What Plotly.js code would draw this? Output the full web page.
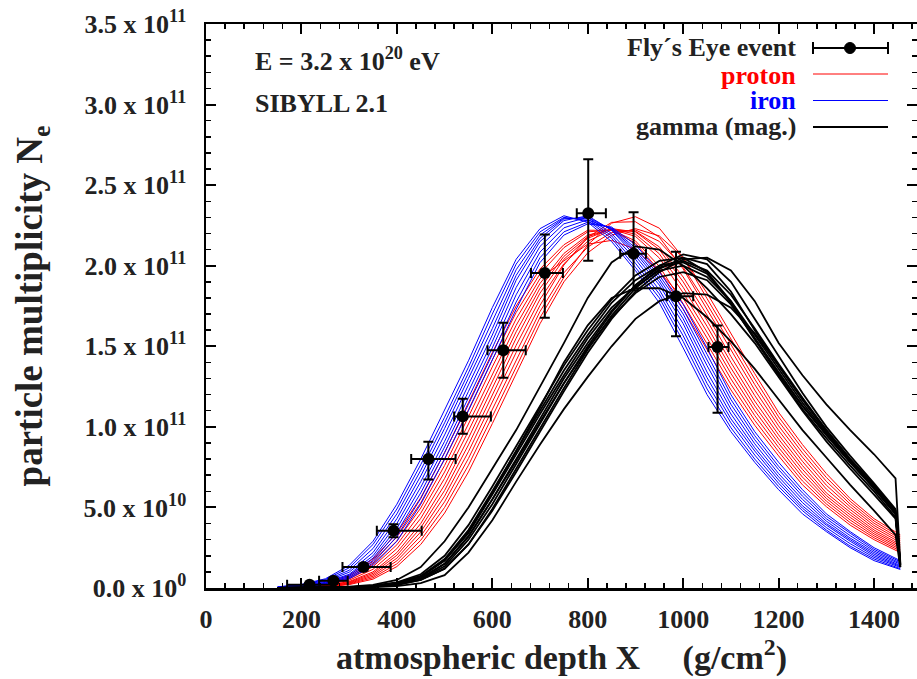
<!DOCTYPE html>
<html>
<head>
<meta charset="utf-8">
<script src="https://cdn.plot.ly/plotly-3.0.1.min.js"></script>
<style>html,body{margin:0;padding:0;background:#fff;}#chart{width:917px;height:679px;}</style>
</head>
<body>
<div id="chart"></div>
<script>
// atmospheric depth grid (g/cm^2) for simulated showers
var depthGrid = [150,200,250,300,350,400,450,500,550,600,650,700,750,800,850,900,950,1000,1050,1100,1150,1200,1250,1300,1350,1400,1455];
var gammaGrid = [150,200,250,300,350,400,450,500,550,600,650,700,750,800,850,900,950,1000,1050,1100,1150,1200,1250,1300,1350,1400,1445,1455];

// iron showers, Ne in units of 1e11
var iron1 = [0.007,0.022,0.057,0.14,0.29,0.52,0.80,1.10,1.41,1.74,2.04,2.23,2.31,2.27,2.15,1.97,1.77,1.49,1.20,0.97,0.78,0.61,0.46,0.35,0.25,0.17,0.115];
var iron2 = [0.006,0.02,0.052,0.125,0.27,0.49,0.765,1.06,1.37,1.70,2.01,2.21,2.30,2.28,2.17,1.99,1.80,1.53,1.235,0.995,0.80,0.63,0.48,0.36,0.26,0.18,0.12];
var iron3 = [0.005,0.017,0.046,0.11,0.245,0.46,0.73,1.025,1.335,1.655,1.975,2.19,2.295,2.29,2.185,2.015,1.825,1.565,1.27,1.025,0.825,0.65,0.495,0.375,0.275,0.19,0.128];
var iron4 = [0.004,0.015,0.04,0.098,0.22,0.43,0.695,0.99,1.30,1.61,1.94,2.17,2.29,2.30,2.20,2.04,1.85,1.60,1.305,1.05,0.85,0.67,0.51,0.39,0.29,0.20,0.134];
var iron5 = [0.003,0.012,0.035,0.085,0.20,0.40,0.66,0.95,1.26,1.57,1.91,2.15,2.28,2.31,2.22,2.06,1.88,1.64,1.34,1.08,0.87,0.69,0.53,0.40,0.30,0.21,0.14];
var iron6 = [0.0025,0.011,0.032,0.078,0.185,0.37,0.625,0.91,1.22,1.53,1.865,2.12,2.26,2.30,2.225,2.08,1.90,1.67,1.38,1.11,0.895,0.71,0.55,0.415,0.31,0.22,0.148];
var iron7 = [0.002,0.0095,0.028,0.071,0.17,0.345,0.59,0.875,1.18,1.49,1.82,2.085,2.235,2.285,2.23,2.095,1.92,1.70,1.415,1.14,0.92,0.735,0.57,0.43,0.325,0.23,0.155];
var iron8 = [0.0015,0.008,0.025,0.064,0.155,0.32,0.555,0.84,1.14,1.45,1.775,2.05,2.21,2.27,2.235,2.11,1.94,1.73,1.45,1.17,0.945,0.755,0.59,0.445,0.34,0.24,0.163];
var iron9 = [0.001,0.007,0.022,0.057,0.14,0.29,0.52,0.80,1.10,1.41,1.73,2.02,2.19,2.26,2.24,2.13,1.96,1.76,1.49,1.20,0.97,0.78,0.61,0.46,0.35,0.25,0.17];

// proton showers
var proton1 = [0.003,0.011,0.03,0.079,0.18,0.34,0.56,0.84,1.15,1.46,1.75,1.98,2.13,2.22,2.22,2.14,1.97,1.73,1.48,1.23,1.01,0.82,0.64,0.505,0.39,0.30,0.22];
var proton2 = [0.0026,0.0096,0.027,0.071,0.164,0.316,0.528,0.80,1.106,1.416,1.71,1.95,2.112,2.21,2.222,2.154,1.996,1.764,1.516,1.264,1.04,0.846,0.664,0.522,0.406,0.312,0.23];
var proton3 = [0.0022,0.0082,0.024,0.063,0.148,0.292,0.496,0.76,1.062,1.372,1.67,1.92,2.03,2.134,2.157,2.103,1.961,1.798,1.552,1.298,1.07,0.872,0.688,0.539,0.422,0.324,0.24];
var proton4 = [0.0018,0.0068,0.021,0.056,0.132,0.268,0.464,0.72,1.018,1.328,1.63,1.89,2.076,2.19,2.226,2.182,2.048,1.832,1.588,1.332,1.10,0.898,0.712,0.556,0.438,0.336,0.25];
var proton5 = [0.0014,0.0054,0.018,0.048,0.116,0.244,0.432,0.68,0.974,1.284,1.59,1.86,2.058,2.18,2.228,2.196,2.074,1.866,1.624,1.366,1.13,0.924,0.736,0.573,0.454,0.348,0.26];
var proton6 = [0.001,0.004,0.015,0.04,0.10,0.22,0.40,0.64,0.93,1.24,1.55,1.83,2.04,2.17,2.23,2.21,2.10,1.90,1.66,1.40,1.16,0.95,0.76,0.59,0.47,0.36,0.27];
var proton7 = [0.0008,0.0035,0.013,0.036,0.091,0.203,0.374,0.605,0.888,1.196,1.506,1.792,2.012,2.152,2.222,2.214,2.117,1.93,1.694,1.436,1.194,0.978,0.786,0.614,0.487,0.374,0.282];
var proton8 = [0.0006,0.003,0.011,0.032,0.082,0.185,0.348,0.57,0.846,1.152,1.462,1.754,2.004,2.177,2.269,2.273,2.177,1.98,1.728,1.472,1.228,1.006,0.812,0.638,0.504,0.388,0.294];
var proton9 = [0.0004,0.0025,0.0096,0.0286,0.073,0.168,0.322,0.535,0.804,1.108,1.418,1.716,1.956,2.116,2.206,2.222,2.151,1.99,1.762,1.508,1.262,1.034,0.838,0.662,0.521,0.402,0.306];
var proton10 = [0.0002,0.002,0.0078,0.0248,0.064,0.15,0.296,0.50,0.762,1.064,1.374,1.678,1.928,2.13,2.264,2.304,2.233,2.05,1.796,1.544,1.296,1.062,0.864,0.686,0.538,0.416,0.318];
var proton11 = [0.0,0.0015,0.006,0.021,0.055,0.133,0.27,0.465,0.72,1.02,1.33,1.64,1.90,2.08,2.19,2.23,2.185,2.05,1.83,1.58,1.33,1.09,0.89,0.71,0.555,0.43,0.33];

// gamma showers (with geomagnetic effect)
var gamma1 = [0,0.001,0.002,0.004,0.01,0.025,0.06,0.15,0.32,0.55,0.80,1.05,1.30,1.52,1.72,1.88,1.99,2.02,1.95,1.77,1.54,1.33,1.13,0.95,0.78,0.62,0.46,0.14];
var gamma2 = [0,0.001,0.003,0.006,0.015,0.035,0.085,0.20,0.39,0.63,0.88,1.13,1.38,1.60,1.79,1.94,2.03,2.05,1.96,1.78,1.55,1.34,1.13,0.95,0.78,0.62,0.46,0.15];
var gamma3 = [0,0.001,0.002,0.005,0.012,0.03,0.07,0.17,0.34,0.58,0.83,1.08,1.32,1.55,1.74,1.87,1.97,2.00,1.93,1.78,1.57,1.36,1.15,0.96,0.79,0.63,0.47,0.14];
var gamma4 = [0,0,0.001,0.003,0.008,0.02,0.05,0.12,0.27,0.49,0.74,0.99,1.24,1.48,1.69,1.86,1.98,2.05,2.01,1.84,1.60,1.38,1.17,0.98,0.80,0.64,0.48,0.13];
var gamma5 = [0,0.001,0.002,0.004,0.009,0.022,0.055,0.135,0.30,0.52,0.77,1.02,1.27,1.50,1.71,1.88,2.00,2.07,2.04,1.90,1.67,1.44,1.21,1.00,0.82,0.65,0.49,0.15];
var gamma6 = [0,0.001,0.002,0.004,0.01,0.025,0.06,0.15,0.32,0.55,0.79,1.03,1.27,1.49,1.68,1.83,1.93,1.96,1.91,1.76,1.55,1.32,1.11,0.93,0.76,0.60,0.44,0.13];
var gamma7 = [0,0.001,0.002,0.005,0.013,0.032,0.075,0.18,0.36,0.60,0.85,1.10,1.35,1.57,1.77,1.91,2.00,2.03,1.97,1.82,1.61,1.39,1.18,0.98,0.80,0.64,0.48,0.15];
var gamma8 = [0,0,0.001,0.003,0.008,0.02,0.05,0.12,0.27,0.48,0.72,0.97,1.22,1.46,1.67,1.84,1.96,2.04,2.05,1.97,1.78,1.52,1.32,1.14,0.98,0.83,0.68,0.16];
var gamma9 = [0,0.001,0.003,0.008,0.02,0.05,0.13,0.29,0.50,0.74,0.98,1.25,1.52,1.80,2.02,2.12,2.10,2.00,1.86,1.70,1.52,1.31,1.10,0.91,0.74,0.58,0.43,0.14];
var gamma10 = [0,0.001,0.002,0.005,0.012,0.03,0.07,0.17,0.35,0.59,0.85,1.12,1.40,1.63,1.80,1.86,1.86,1.80,1.68,1.53,1.36,1.17,0.98,0.81,0.64,0.48,0.33,0.13];
var gamma11 = [0,0,0.001,0.002,0.005,0.012,0.03,0.08,0.22,0.42,0.66,0.89,1.11,1.31,1.50,1.67,1.78,1.83,1.82,1.74,1.58,1.38,1.17,0.97,0.79,0.62,0.46,0.14];

// Fly's Eye event
var flyX = [217, 267, 330, 393, 466, 538, 623, 710, 801, 896, 985, 1072];
var flyN = [0.02, 0.045, 0.13, 0.355, 0.80, 1.065, 1.475, 1.955, 2.325, 2.075, 1.81, 1.495];
var flyNErrPlus = [0.01, 0.015, 0.02, 0.04, 0.108, 0.109, 0.171, 0.239, 0.335, 0.257, 0.277, 0.134];
var flyNErrMinus = [0.01, 0.015, 0.02, 0.04, 0.127, 0.107, 0.171, 0.278, 0.294, 0.227, 0.247, 0.408];
var flyXErrPlus = [50, 30, 57, 59, 57, 59, 47, 38, 37, 26, 36, 23];
var flyXErrMinus = [47, 30, 44, 35, 36, 18, 33, 29, 24, 28, 19, 19];

// axis ticks
var yTickVals = [0, 0.5, 1.0, 1.5, 2.0, 2.5, 3.0, 3.5];
var yTickText = ['0.0 x 10<sup>0</sup>','5.0 x 10<sup>10</sup>','1.0 x 10<sup>11</sup>','1.5 x 10<sup>11</sup>','2.0 x 10<sup>11</sup>','2.5 x 10<sup>11</sup>','3.0 x 10<sup>11</sup>','3.5 x 10<sup>11</sup>'];
var xTickVals = [0, 200, 400, 600, 800, 1000, 1200, 1400];

var ironSets = [iron1, iron2, iron3, iron4, iron5, iron6, iron7, iron8, iron9];
var protonSets = [proton1, proton2, proton3, proton4, proton5, proton6, proton7, proton8, proton9, proton10, proton11];
var gammaSets = [gamma1, gamma2, gamma3, gamma4, gamma5, gamma6, gamma7, gamma8, gamma9, gamma10, gamma11];

var traces = [];
protonSets.forEach(function (s) {
  traces.push({x: depthGrid, y: s, mode: 'lines', line: {color: '#ff0000', width: 1}, showlegend: false, hoverinfo: 'skip'});
});
ironSets.forEach(function (s) {
  traces.push({x: depthGrid, y: s, mode: 'lines', line: {color: '#0000ff', width: 1}, showlegend: false, hoverinfo: 'skip'});
});
gammaSets.forEach(function (s) {
  traces.push({x: gammaGrid, y: s, mode: 'lines', line: {color: '#000000', width: 1.8}, showlegend: false, hoverinfo: 'skip'});
});
traces.push({
  x: flyX, y: flyN, mode: 'markers', showlegend: false,
  marker: {color: '#000', size: 12, symbol: 'circle'},
  error_y: {type: 'data', symmetric: false, array: flyNErrPlus, arrayminus: flyNErrMinus, color: '#000', thickness: 2, width: 5},
  error_x: {type: 'data', symmetric: false, array: flyXErrPlus, arrayminus: flyXErrMinus, color: '#000', thickness: 2, width: 5}
});

var L = 206, R = 917, T = 24, B = 588;
function px(x) { return (x - L) / (R - L); }
function py(y) { return (B - y) / (B - T); }

var textFont = {family: 'Liberation Serif, Times New Roman, serif', size: 26, color: '#222', weight: 'bold'};
var annotations = [
  {xref: 'paper', yref: 'paper', x: px(253), y: py(60), xanchor: 'left', yanchor: 'middle', showarrow: false, text: 'E = 3.2 x 10<sup>20</sup> eV', font: textFont},
  {xref: 'paper', yref: 'paper', x: px(253), y: py(104), xanchor: 'left', yanchor: 'middle', showarrow: false, text: 'SIBYLL 2.1', font: textFont},
  {xref: 'paper', yref: 'paper', x: px(798), y: py(48), xanchor: 'right', yanchor: 'middle', showarrow: false, text: 'Fly\u00b4s Eye event', font: textFont},
  {xref: 'paper', yref: 'paper', x: px(798), y: py(75), xanchor: 'right', yanchor: 'middle', showarrow: false, text: 'proton', font: Object.assign({}, textFont, {color: '#ff0000'})},
  {xref: 'paper', yref: 'paper', x: px(798), y: py(101), xanchor: 'right', yanchor: 'middle', showarrow: false, text: 'iron', font: Object.assign({}, textFont, {color: '#0000ff'})},
  {xref: 'paper', yref: 'paper', x: px(798), y: py(127), xanchor: 'right', yanchor: 'middle', showarrow: false, text: 'gamma (mag.)', font: textFont}
];
var shapes = [
  {type: 'line', xref: 'paper', yref: 'paper', x0: px(813), x1: px(888), y0: py(48), y1: py(48), line: {color: '#000', width: 2}},
  {type: 'line', xref: 'paper', yref: 'paper', x0: px(813), x1: px(813), y0: py(42), y1: py(54), line: {color: '#000', width: 2}},
  {type: 'line', xref: 'paper', yref: 'paper', x0: px(888), x1: px(888), y0: py(42), y1: py(54), line: {color: '#000', width: 2}},
  {type: 'circle', xref: 'paper', yref: 'paper', x0: px(844.5), x1: px(855.5), y0: py(42.5), y1: py(53.5), fillcolor: '#000', line: {color: '#000', width: 1}},
  {type: 'line', xref: 'paper', yref: 'paper', x0: px(813), x1: px(888), y0: py(74), y1: py(74), line: {color: '#ff0000', width: 1}},
  {type: 'line', xref: 'paper', yref: 'paper', x0: px(813), x1: px(888), y0: py(100.5), y1: py(100.5), line: {color: '#0000ff', width: 1}},
  {type: 'line', xref: 'paper', yref: 'paper', x0: px(813), x1: px(888), y0: py(127), y1: py(127), line: {color: '#000', width: 2}}
];

var layout = {
  width: 917, height: 679,
  margin: {l: L, r: 917 - R, t: T, b: 679 - B, pad: 0},
  paper_bgcolor: '#fff', plot_bgcolor: '#fff',
  font: {family: 'Liberation Serif, Times New Roman, serif', size: 26, color: '#222', weight: 'bold'},
  showlegend: false,
  xaxis: {
    range: [0, 1490], tickvals: xTickVals, showgrid: false, zeroline: false,
    showline: true, linecolor: '#000', linewidth: 2.5, mirror: 'allticks',
    ticks: 'inside', ticklen: 10, tickwidth: 2, tickcolor: '#000',
    minor: {dtick: 40, tick0: 0, ticks: 'inside', ticklen: 5, tickwidth: 1.5, tickcolor: '#000', showgrid: false},
    tickfont: {size: 26, weight: 'bold', color: '#222'},
    ticklabelstandoff: 6,
    title: {text: 'atmospheric depth X&nbsp;&nbsp;&nbsp;&nbsp;&nbsp;(g/cm<sup>2</sup>)', font: {size: 34, weight: 'bold', color: '#222'}, standoff: 8},
    automargin: false
  },
  yaxis: {
    range: [0, 3.5], tickvals: yTickVals, ticktext: yTickText, showgrid: false, zeroline: false,
    showline: true, linecolor: '#000', linewidth: 2.5, mirror: 'allticks',
    ticks: 'inside', ticklen: 10, tickwidth: 2, tickcolor: '#000',
    minor: {dtick: 0.1, tick0: 0, ticks: 'inside', ticklen: 5, tickwidth: 1.5, tickcolor: '#000', showgrid: false},
    tickfont: {size: 26, weight: 'bold', color: '#222'},
    ticklabelstandoff: 12,
    title: {text: 'particle multiplicity N<sub>e</sub>', font: {size: 37, weight: 'bold', color: '#222'}, standoff: 30},
    automargin: false
  },
  annotations: annotations,
  shapes: shapes
};

Plotly.newPlot('chart', traces, layout, {displayModeBar: false, staticPlot: true});
</script>
</body>
</html>
